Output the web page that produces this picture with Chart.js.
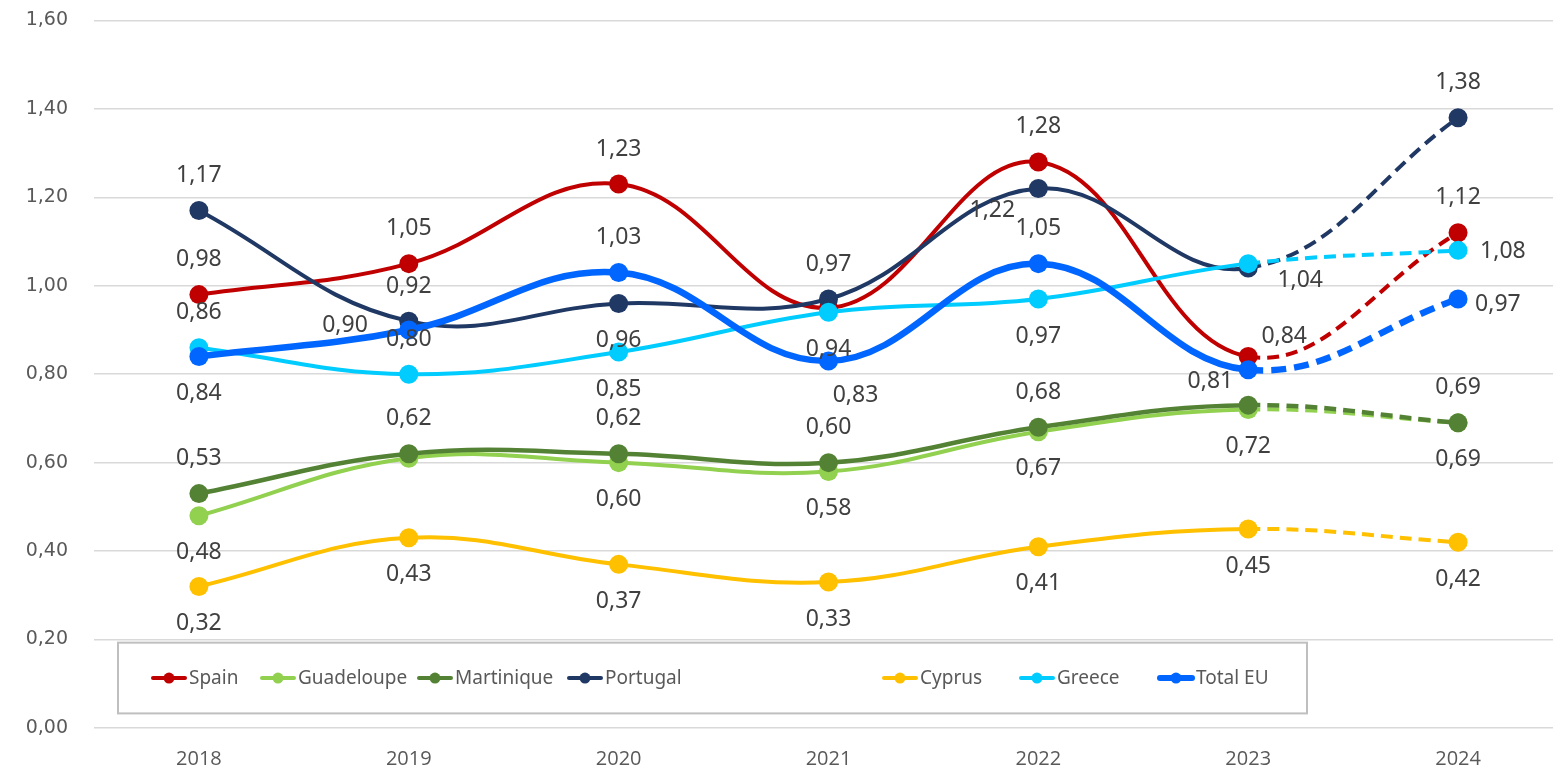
<!DOCTYPE html>
<html>
<head>
<meta charset="utf-8">
<script src="https://cdn.jsdelivr.net/npm/chart.js@4"></script>
<style>
  html, body { margin: 0; padding: 0; background: #fff; overflow: hidden; }
  #wrap { position: relative; width: 1563px; height: 772px; }
</style>
</head>
<body>
<div id="wrap"><canvas id="chart"></canvas></div>
<script>
// --- data ---
const years = ['2018', '2019', '2020', '2021', '2022', '2023', '2024'];
const yTicks = [0, 0.2, 0.4, 0.6, 0.8, 1.0, 1.2, 1.4, 1.6];

const spain      = [0.98, 1.05, 1.23, 0.95, 1.28, 0.84, 1.12];
const guadeloupe = [0.48, 0.61, 0.60, 0.58, 0.67, 0.72, 0.69];
const martinique = [0.53, 0.62, 0.62, 0.60, 0.68, 0.73, 0.69];
const portugal   = [1.17, 0.92, 0.96, 0.97, 1.22, 1.04, 1.38];
const cyprus     = [0.32, 0.43, 0.37, 0.33, 0.41, 0.45, 0.42];
const greece     = [0.86, 0.80, 0.85, 0.94, 0.97, 1.05, 1.08];
const totalEU    = [0.84, 0.90, 1.03, 0.83, 1.05, 0.81, 0.97];

// where each value label sits relative to its point ('-' = no label)
const labelPos = {
  Spain:      ['t', 't', 't', '-', 't', 'tr', 't'],
  Guadeloupe: ['b', '-', 'b', 'b', 'b', 'b', 'b'],
  Martinique: ['t', 't', 't', 't', 't', '-', 't'],
  Portugal:   ['t', 't', 'b', 't', 'bl', 'br2', 't'],
  Cyprus:     ['b', 'b', 'b', 'b', 'b', 'b', 'b'],
  Greece:     ['t', 't', 'b', 'b', 'b', '-', 'r'],
  'Total EU': ['b', 'l', 't', 'br', 't', 'bl2', 'r2']
};
// [dx, dy, align]
const offsets = {
  t: [0, -35, 'center'], b: [0, 37, 'center'],
  l: [-41, -5, 'right'], r: [22, 1, 'left'], r2: [17, 5, 'left'],
  tr: [36, -20, 'center'], br: [27, 35, 'center'], br2: [52, 12, 'center'],
  bl: [-46, 22, 'center'], bl2: [-15, 12, 'right']
};

const series = [
  { name: 'Spain',      data: spain,      color: '#C00000', width: 4,   dash: [12, 7] },
  { name: 'Guadeloupe', data: guadeloupe, color: '#92D050', width: 4,   dash: [12, 7] },
  { name: 'Martinique', data: martinique, color: '#548235', width: 4.5, dash: [12, 7] },
  { name: 'Portugal',   data: portugal,   color: '#203864', width: 4,   dash: [13, 7] },
  { name: 'Cyprus',     data: cyprus,     color: '#FFC000', width: 4,   dash: [12, 7] },
  { name: 'Greece',     data: greece,     color: '#00CCFF', width: 4,   dash: [12, 7] },
  { name: 'Total EU',   data: totalEU,    color: '#0066FF', width: 6.5, dash: [15, 8] }
];
// legend item starts, measured from the legend box's left edge
const legendSlots = [33, 142, 299, 449, 764, 901, 1040];

const fmt = v => v.toFixed(2).replace('.', ',');

// --- value labels ---
const valueLabels = {
  id: 'valueLabels',
  afterDatasetsDraw(chart) {
    const ctx = chart.ctx;
    ctx.save();
    ctx.font = '23px "Noto Sans", "Open Sans", sans-serif';
    ctx.fillStyle = '#404040';
    ctx.textBaseline = 'middle';
    chart.data.datasets.forEach((ds, i) => {
      const meta = chart.getDatasetMeta(i);
      const pos = labelPos[ds.label];
      meta.data.forEach((pt, j) => {
        if (pos[j] === '-') return;
        const [dx, dy, align] = offsets[pos[j]];
        ctx.textAlign = align;
        ctx.fillText(fmt(ds.data[j]), pt.x + dx, pt.y + dy);
      });
    });
    ctx.restore();
  }
};

// --- boxed legend inside the plot ---
const boxLegend = {
  id: 'boxLegend',
  afterDraw(chart) {
    const ctx = chart.ctx;
    const area = chart.chartArea;
    const y = chart.scales.y;
    const left = area.left + 24, right = area.left + 1213;
    const top = y.getPixelForValue(0.193), bottom = y.getPixelForValue(0.033);
    ctx.save();
    ctx.fillStyle = '#fff';
    ctx.fillRect(left, top, right - left, bottom - top);
    ctx.strokeStyle = '#BFBFBF';
    ctx.lineWidth = 2;
    ctx.strokeRect(left, top, right - left, bottom - top);
    ctx.font = '19px "Noto Sans", "Open Sans", sans-serif';
    const sym = 36;
    const cy = (top + bottom) / 2;
    ctx.textBaseline = 'middle';
    ctx.textAlign = 'left';
    series.forEach((s, i) => {
      const cx = left + legendSlots[i];
      ctx.strokeStyle = s.color;
      ctx.lineWidth = s.name === 'Total EU' ? 6 : 4;
      ctx.lineCap = 'round';
      ctx.beginPath();
      ctx.moveTo(cx + 2, cy);
      ctx.lineTo(cx + sym - 2, cy);
      ctx.stroke();
      ctx.fillStyle = s.color;
      ctx.beginPath();
      ctx.arc(cx + sym / 2, cy, 5.5, 0, Math.PI * 2);
      ctx.fill();
      ctx.fillStyle = '#595959';
      ctx.fillText(s.name, cx + sym + 2, cy + 1);
    });
    ctx.restore();
  }
};

const datasets = series.map((s, i) => ({
  label: s.name,
  data: s.data,
  borderColor: s.color,
  backgroundColor: s.color,
  borderWidth: s.width,
  pointRadius: 9.5,
  pointHoverRadius: 9.5,
  pointBorderWidth: 0,
  tension: 0.4,
  order: series.length - i,
  segment: {
    borderDash: c => c.p1DataIndex === years.length - 1 ? s.dash : undefined
  }
}));

const chart = new Chart(document.getElementById('chart'), {
  type: 'line',
  data: { labels: years, datasets: datasets },
  options: {
    responsive: true,
    maintainAspectRatio: false,
    animation: false,
    layout: { autoPadding: false, padding: { top: 20, right: 0, left: 0, bottom: 0 } },
    plugins: {
      legend: { display: false },
      tooltip: { enabled: false }
    },
    scales: {
      x: {
        offset: true,
        grid: { display: false },
        border: { display: false },
        ticks: {
          color: '#595959',
          font: { family: '"Open Sans", sans-serif', size: 20 },
          padding: 11
        },
        afterFit(scale) { scale.height = 44; }
      },
      y: {
        min: 0,
        max: 1.6,
        afterBuildTicks(scale) { scale.ticks = yTicks.map(v => ({ value: v })); },
        grid: { color: '#D9D9D9', lineWidth: 1.5, drawTicks: false },
        border: { display: false },
        ticks: {
          color: '#595959',
          font: { family: '"DejaVu Sans", sans-serif', size: 19 },
          padding: 26,
          callback: v => fmt(v)
        },
        afterFit(scale) { scale.width = 94; }
      }
    }
  },
  plugins: [valueLabels, boxLegend]
});

// if the plot top still is not at y=20, stretch the canvas and shift it up
const extra = Math.round(chart.chartArea.top - 20);
if (extra !== 0) {
  const wrap = document.getElementById('wrap');
  wrap.style.marginTop = (-extra) + 'px';
  wrap.style.height = (772 + extra) + 'px';
  chart.resize();
}
</script>
</body>
</html>
